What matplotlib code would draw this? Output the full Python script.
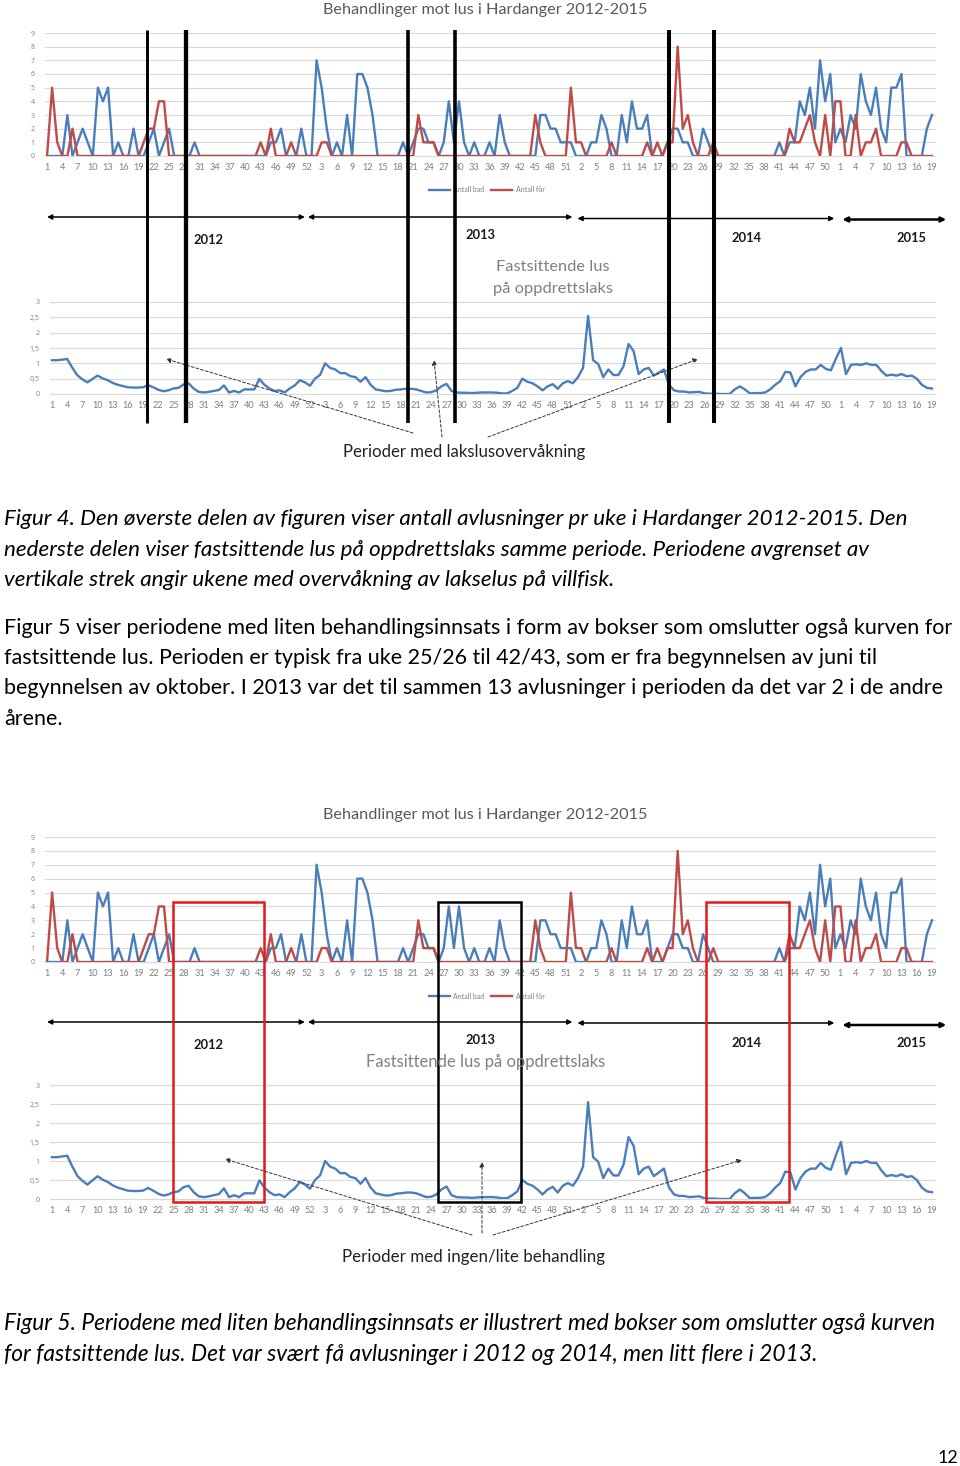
import matplotlib
matplotlib.use("Agg")
import matplotlib.pyplot as plt
from matplotlib import transforms
from matplotlib.lines import Line2D
from matplotlib.patches import Rectangle, FancyArrowPatch

plt.rcParams['font.family'] = ['Lato', 'DejaVu Sans']

W, H = 960, 1466

# week numbers on the category axis: 2012 w1-52, 2013 w1-52, 2014 w1-52, 2015 w1-19
weeks = list(range(1, 53)) * 3 + list(range(1, 20))

# Antall bad (blue)
bad_2012 = [0, 0, 0, 0, 3, 0, 1, 2, 1, 0,
            5, 4, 5, 0, 1, 0, 0, 2, 0, 0,
            1, 2, 0, 1, 2, 0, 0, 0, 0, 1,
            0, 0, 0, 0, 0, 0, 0, 0, 0, 0,
            0, 0, 0, 0, 1, 1, 2, 0, 0, 0,
            2, 0]
bad_2013 = [0, 7, 5, 2, 0, 1, 0, 3, 0, 6,
            6, 5, 3, 0, 0, 0, 0, 0, 1, 0,
            1, 2, 2, 1, 1, 0, 1, 4, 1, 4,
            1, 0, 1, 0, 0, 1, 0, 3, 1, 0,
            0, 0, 0, 0, 0, 3, 3, 2, 2, 1,
            1, 1]
bad_2014 = [0, 0, 0, 1, 1, 3, 2, 0, 0, 3,
            1, 4, 2, 2, 3, 0, 0, 0, 1, 2,
            2, 1, 1, 0, 0, 2, 1, 0, 0, 0,
            0, 0, 0, 0, 0, 0, 0, 0, 0, 0,
            1, 0, 1, 1, 4, 3, 5, 2, 7, 4,
            6, 1]
bad_2015 = [2, 1, 3, 2, 6, 4, 3, 5, 2, 1,
            5, 5, 6, 0, 0, 0, 0, 2, 3]

# Antall fôr (red)
for_2012 = [0, 5, 1, 0, 0, 2, 0, 0, 0, 0,
            0, 0, 0, 0, 0, 0, 0, 0, 0, 1,
            2, 2, 4, 4, 0, 0, 0, 0, 0, 0,
            0, 0, 0, 0, 0, 0, 0, 0, 0, 0,
            0, 0, 1, 0, 2, 0, 0, 0, 1, 0,
            0, 0]
for_2013 = [0, 0, 1, 1, 0, 0, 0, 0, 0, 0,
            0, 0, 0, 0, 0, 0, 0, 0, 0, 0,
            0, 3, 1, 1, 1, 0, 0, 0, 0, 0,
            0, 0, 0, 0, 0, 0, 0, 0, 0, 0,
            0, 0, 0, 0, 3, 1, 0, 0, 0, 0,
            0, 5]
for_2014 = [1, 1, 0, 0, 0, 0, 0, 1, 0, 0,
            0, 0, 0, 0, 1, 0, 1, 0, 1, 1,
            8, 2, 3, 1, 0, 0, 0, 1, 0, 0,
            0, 0, 0, 0, 0, 0, 0, 0, 0, 0,
            0, 0, 2, 1, 1, 2, 3, 1, 0, 3,
            0, 4]
for_2015 = [4, 0, 0, 3, 0, 1, 1, 2, 0, 0,
            0, 0, 1, 1, 0, 0, 0, 0, 0]

# Fastsittende lus på oppdrettslaks
lus_2012 = [1.10, 1.10, 1.12, 1.14, 0.86, 0.61, 0.48, 0.38, 0.49, 0.60,
            0.51, 0.45, 0.36, 0.30, 0.26, 0.22, 0.21, 0.21, 0.22, 0.29,
            0.22, 0.14, 0.09, 0.12, 0.18, 0.20, 0.31, 0.35, 0.18, 0.07,
            0.05, 0.07, 0.10, 0.13, 0.28, 0.05, 0.10, 0.05, 0.15, 0.15,
            0.15, 0.49, 0.30, 0.18, 0.10, 0.12, 0.05, 0.18, 0.28, 0.45,
            0.38, 0.27]
lus_2013 = [0.50, 0.62, 1.00, 0.85, 0.80, 0.68, 0.68, 0.58, 0.55, 0.40,
            0.55, 0.30, 0.15, 0.12, 0.09, 0.10, 0.14, 0.15, 0.17, 0.17,
            0.15, 0.10, 0.05, 0.06, 0.12, 0.25, 0.33, 0.10, 0.05, 0.04,
            0.04, 0.03, 0.04, 0.05, 0.05, 0.05, 0.04, 0.02, 0.02, 0.10,
            0.20, 0.50, 0.40, 0.35, 0.25, 0.12, 0.25, 0.32, 0.17, 0.35,
            0.42, 0.35]
lus_2014 = [0.55, 0.85, 2.55, 1.10, 0.98, 0.55, 0.80, 0.62, 0.62, 0.90,
            1.63, 1.40, 0.65, 0.80, 0.85, 0.60, 0.70, 0.80, 0.30, 0.12,
            0.08, 0.08, 0.05, 0.06, 0.07, 0.02, 0.01, 0.01, 0.00, 0.00,
            0.00, 0.15, 0.25, 0.15, 0.02, 0.03, 0.03, 0.05, 0.15, 0.30,
            0.42, 0.72, 0.70, 0.25, 0.55, 0.72, 0.80, 0.80, 0.95, 0.82,
            0.77, 1.15]
lus_2015 = [1.50, 0.65, 0.95, 0.97, 0.95, 1.00, 0.95, 0.95, 0.75, 0.60,
            0.63, 0.60, 0.65, 0.58, 0.60, 0.50, 0.30, 0.20, 0.18]

bad = bad_2012 + bad_2013 + bad_2014 + bad_2015
fortreat = for_2012 + for_2013 + for_2014 + for_2015
lus = lus_2012 + lus_2013 + lus_2014 + lus_2015
x = list(range(len(weeks)))

years = ['2012', '2013', '2014', '2015']
# year arrows as (first, last) category index
year_spans = [(0, 50.7), (51.3, 103.3), (104.3, 154.8), (156.4, 176.8)]
# edges of the weeks with wild-fish monitoring (figur 4)
monitor_edges = [19.6, 27.3, 70.9, 80.2, 122.2, 131.2]
# periods with little treatment (figur 5)
low_periods = [(24.8, 42.6, '#e01b1b'), (76.8, 93.1, 'black'), (129.5, 145.8, '#e01b1b')]

cap4 = ["Figur 4. Den øverste delen av figuren viser antall avlusninger pr uke i Hardanger 2012-2015. Den",
        "nederste delen viser fastsittende lus på oppdrettslaks samme periode. Periodene avgrenset av",
        "vertikale strek angir ukene med overvåkning av lakselus på villfisk."]
para = ["Figur 5 viser periodene med liten behandlingsinnsats i form av bokser som omslutter også kurven for",
        "fastsittende lus. Perioden er typisk fra uke 25/26 til 42/43, som er fra begynnelsen av juni til",
        "begynnelsen av oktober. I 2013 var det til sammen 13 avlusninger i perioden da det var 2 i de andre",
        "årene."]
cap5 = ["Figur 5. Periodene med liten behandlingsinnsats er illustrert med bokser som omslutter også kurven",
        "for fastsittende lus. Det var svært få avlusninger i 2012 og 2014, men litt flere i 2013."]

BLUE = '#4a7ebb'
RED = '#be4b48'
GRID = '#d9d9d9'
TICK = '#7f7f7f'

fig = plt.figure(figsize=(W / 100, H / 100), dpi=100)
fig.patch.set_facecolor('white')
renderer = fig.canvas.get_renderer()


def fx(px):
    return px / W


def fy(py):
    return 1 - py / H


def add_axes(left, right, top, bottom):
    return fig.add_axes([fx(left), fy(bottom), (right - left) / W, (bottom - top) / H])


def fit(texts, ref, width):
    # scale font so that the reference text gets the wanted pixel width
    w = ref.get_window_extent(renderer).width
    for t in texts:
        t.set_fontsize(t.get_fontsize() * width / w)


def style(ax, ymax, yticks, ylabels):
    ax.set_xlim(-0.5, len(x) - 0.5)
    ax.set_ylim(0, ymax)
    ax.set_yticks(yticks)
    ax.set_yticklabels(ylabels, family='Open Sans')
    ax.set_xticks(x[::3])
    ax.set_xticklabels([str(w) for w in weeks[::3]])
    ax.grid(axis='y', color=GRID, lw=0.8, clip_on=False)
    ax.set_axisbelow(True)
    for s in ax.spines.values():
        s.set_visible(False)
    ax.tick_params(length=0, colors=TICK)
    ax.tick_params(axis='x', labelsize=6.6, pad=5)
    ax.tick_params(axis='y', labelsize=5.0, pad=7)
    ax.patch.set_alpha(0)


def treatment_chart(top, bottom, title_y):
    ax = add_axes(44.5, 934.5, top, bottom)
    ax.plot(x, bad, color=BLUE, lw=1.7, label='Antall bad')
    ax.plot(x, fortreat, color=RED, lw=1.7, label='Antall fôr')
    style(ax, 9, range(10), [str(v) for v in range(10)])
    leg = ax.legend(loc='center', bbox_to_anchor=(0.497, -0.275), ncol=2, frameon=False,
                    fontsize=5.0, handlelength=3.0, columnspacing=1.0, handletextpad=0.5)
    for t in leg.get_texts():
        t.set_color(TICK)
    t = fig.text(fx(485), fy(title_y), 'Behandlinger mot lus i Hardanger 2012-2015',
                 ha='center', va='center', color='#595959', fontsize=11)
    fit([t], t, 324)
    return ax


def lice_chart(top, bottom):
    ax = add_axes(49.5, 934.5, top, bottom)
    ax.plot(x, lus, color=BLUE, lw=1.7)
    style(ax, 3, [0, 0.5, 1, 1.5, 2, 2.5, 3], ['0', '0,5', '1', '1,5', '2', '2,5', '3'])
    return ax


def year_arrows(ax, arrow_y, label_pos):
    bt = transforms.blended_transform_factory(ax.transData, fig.transFigure)
    for (a, b), yy, lw in zip(year_spans, arrow_y, [1.1, 1.1, 1.1, 1.8]):
        fig.add_artist(FancyArrowPatch((a, fy(yy)), (b, fy(yy)), transform=bt,
                                       arrowstyle='<|-|>', mutation_scale=7, lw=lw,
                                       color='black', shrinkA=0, shrinkB=0))
    for label, (px, py) in zip(years, label_pos):
        t = fig.text(fx(px), fy(py), label, ha='center', va='center',
                     fontweight='bold', fontsize=9, color='#1a1a1a')
        fit([t], t, 30)


def callouts(tails, tips, text, pos, width):
    for (x0, y0), (x1, y1) in zip(tails, tips):
        fig.add_artist(FancyArrowPatch((fx(x0), fy(y0)), (fx(x1), fy(y1)),
                                       transform=fig.transFigure, arrowstyle='-|>',
                                       mutation_scale=7, lw=0.7, ls=(0, (3, 2)),
                                       color='#333333', shrinkA=0, shrinkB=0))
    t = fig.text(fx(pos[0]), fy(pos[1]), text, ha='center', va='center',
                 color='#222222', fontsize=11)
    fit([t], t, width)


# ---------------- Figur 4 ----------------
ax4t = treatment_chart(33, 156, 10)
ax4b = lice_chart(302, 394)
year_arrows(ax4t, [217, 217, 218.5, 219.5], [(208, 240), (480, 235), (746, 238), (911, 238)])
g1 = fig.text(fx(553), fy(267), 'Fastsittende lus', ha='center', va='center', color='#808080', fontsize=11)
g2 = fig.text(fx(553), fy(289), 'på oppdrettslaks', ha='center', va='center', color='#808080', fontsize=11)
fit([g1, g2], g1, 113)

bt4 = transforms.blended_transform_factory(ax4t.transData, fig.transFigure)
for xi, lw in zip(monitor_edges, [2.1, 3.1, 2.6, 2.6, 2.9, 2.9]):
    fig.add_artist(Line2D([xi, xi], [fy(30), fy(423)], transform=bt4, color='black',
                          lw=lw, solid_capstyle='butt'))

callouts([(413, 433), (442, 437), (488, 437)], [(166, 359), (434, 360), (698, 359)],
         'Perioder med lakslusovervåkning', (464, 452), 242)

# ---------------- Figur 5 ----------------
ax5t = treatment_chart(837, 962, 815)
ax5b = lice_chart(1085, 1199)
year_arrows(ax5t, [1022, 1022, 1023, 1025], [(208, 1045), (480, 1040), (746, 1043), (911, 1043)])
g3 = fig.text(fx(486), fy(1062), 'Fastsittende lus på oppdrettslaks', ha='center', va='center',
              color='#808080', fontsize=11)
fit([g3], g3, 239)

bt5 = transforms.blended_transform_factory(ax5t.transData, fig.transFigure)
for a, b, c in low_periods:
    fig.add_artist(Rectangle((a, fy(1202)), b - a, fy(902) - fy(1202), transform=bt5,
                             fill=False, ec=c, lw=1.8))

callouts([(472, 1235), (482, 1233), (493, 1235)], [(225, 1159), (482, 1162), (742, 1160)],
         'Perioder med ingen/lite behandling', (474, 1257), 262)

# ---------------- text ----------------
c4 = [fig.text(fx(4), fy(b), s, ha='left', va='baseline', style='italic', fontsize=13, color='black')
      for s, b in zip(cap4, [525, 556, 586])]
fit(c4, c4[0], 902)
p = [fig.text(fx(4), fy(b), s, ha='left', va='baseline', fontsize=13, color='black')
     for s, b in zip(para, [634, 664, 694, 725])]
fit(p, p[0], 947)
c5 = [fig.text(fx(4), fy(b), s, ha='left', va='baseline', style='italic', fontsize=13, color='black')
      for s, b in zip(cap5, [1330, 1361])]
fit(c5, c5[0], 932)
fig.text(fx(958), fy(1463), '12', ha='right', va='baseline', fontsize=13, color='black')

fig.savefig('out.png', dpi=100, facecolor='white')
